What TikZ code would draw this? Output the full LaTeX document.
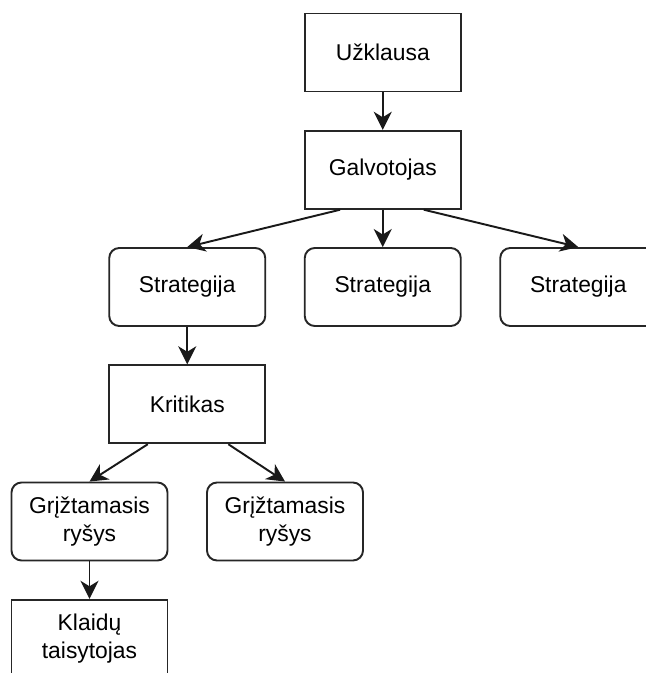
\documentclass[tikz,border=0pt]{standalone}
\usepackage{fontspec}
\setmainfont{Liberation Sans}
\usepackage{tikz}
\usetikzlibrary{arrows.meta,positioning,calc}

\begin{document}
\begin{tikzpicture}[
  every node/.style={font=\fontsize{13}{16}\selectfont, align=center},
  block/.style={rectangle, draw=black!85, line width=1.1pt, minimum width=3.12cm, minimum height=1.56cm, inner sep=0pt},
  roundbox/.style={block, rounded corners=0.2cm},
  arrow/.style={-{Stealth[length=3.6mm, width=3.6mm, inset=1.1mm]}, line width=1.1pt, draw=black!90}
]

\useasboundingbox (0,0) rectangle (12.9,-13.46);

\def\halfcol{1.955}
\def\rowsp{2.345}

\coordinate (C0) at (1.79,-1.05);

\node[block] (query) at ($(C0)+(3*\halfcol,0)$) {Užklausa};
\node[block] (thinker) at ($(C0)+(3*\halfcol,-\rowsp)$) {Galvotojas};
\node[roundbox] (strat1) at ($(C0)+(\halfcol,-2*\rowsp)$) {Strategija};
\node[roundbox] (strat2) at ($(C0)+(3*\halfcol,-2*\rowsp)$) {Strategija};
\node[roundbox] (strat3) at ($(C0)+(5*\halfcol,-2*\rowsp)$) {Strategija};
\node[block] (critic) at ($(C0)+(\halfcol,-3*\rowsp)$) {Kritikas};
\node[roundbox] (feedback1) at ($(C0)+(0,-4*\rowsp)$) {Grįžtamasis\\ryšys};
\node[roundbox] (feedback2) at ($(C0)+(2*\halfcol,-4*\rowsp)$) {Grįžtamasis\\ryšys};
\node[block] (fixer) at ($(C0)+(0,-5*\rowsp)$) {Klaidų\\taisytojas};

\draw[arrow] (query) -- (thinker);
\draw[arrow] ($(thinker.south west)!0.23!(thinker.south east)$) -- (strat1.north);
\draw[arrow] (thinker) -- (strat2);
\draw[arrow] ($(thinker.south west)!0.76!(thinker.south east)$) -- (strat3.north);
\draw[arrow] (strat1) -- (critic);
\draw[arrow] ($(critic.south west)!0.25!(critic.south east)$) -- (feedback1.north);
\draw[arrow] ($(critic.south west)!0.76!(critic.south east)$) -- (feedback2.north);
\draw[arrow] (feedback1) -- (fixer);

\end{tikzpicture}
\end{document}
